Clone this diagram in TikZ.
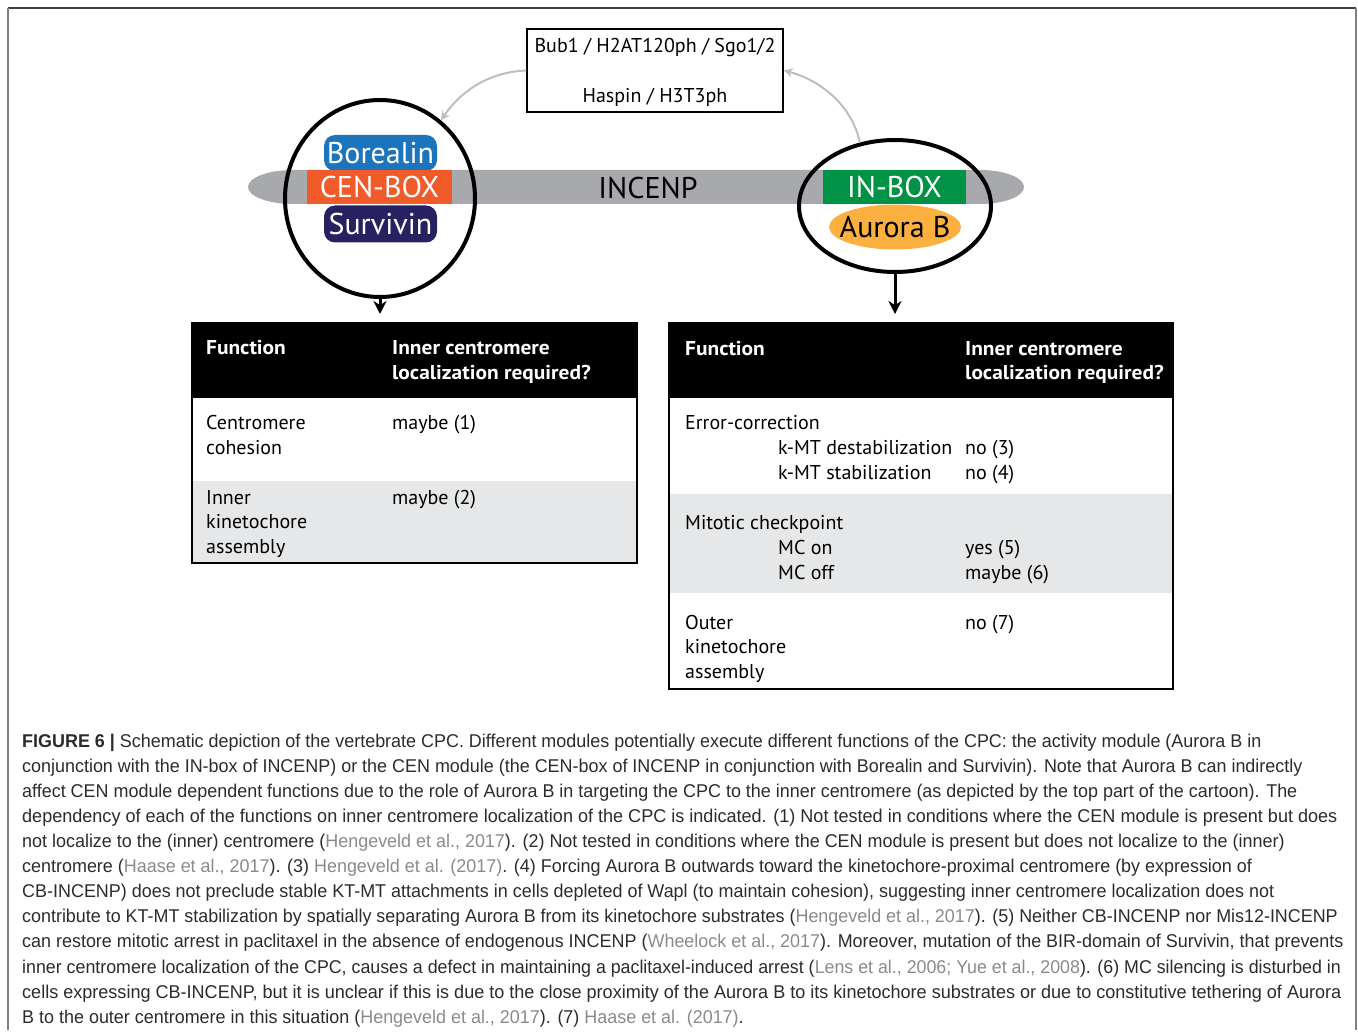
\documentclass[tikz,border=0pt]{standalone}
\usepackage{fontspec}
\usetikzlibrary{shapes.geometric,arrows.meta}
\newfontfamily\dfont{PT Sans}
\newfontfamily\hfont[FakeStretch=1.07]{PT Sans Bold}
\newfontfamily\capfont[FakeStretch=0.97]{Liberation Sans}
\definecolor{barc}{HTML}{A7A9AC}
\definecolor{borc}{HTML}{1C75BC}
\definecolor{cenc}{HTML}{F15A29}
\definecolor{surc}{HTML}{262262}
\definecolor{inbc}{HTML}{009245}
\definecolor{aurc}{HTML}{FBB040}
\definecolor{rowc}{HTML}{E6E7E8}
\definecolor{arrc}{HTML}{BCBEC0}
\definecolor{capc}{HTML}{2B2B2B}
\definecolor{citc}{HTML}{8A8A8A}
\newcommand{\ct}[1]{\textcolor{citc}{#1}}
\tikzset{
  tbl/.style={anchor=base west, inner sep=0, font=\dfont\fontsize{20}{24}\selectfont},
  tblh/.style={tbl, text=white, font=\hfont\fontsize{20}{24}\selectfont},
  captxt/.style={anchor=base west, inner sep=0, text=capc, font=\capfont\fontsize{18.5}{22}\selectfont},
  lbl/.style={inner sep=0, text=white, font=\dfont\fontsize{30}{34}\selectfont},
  grayarrow/.style={draw=arrc, line width=2, -{Stealth[length=9,width=9]}},
  blackarrow/.style={draw=black, line width=3, -{Stealth[length=13,width=13]}},
  ring/.style={ellipse, draw=black, line width=4, inner sep=0},
}
\begin{document}
\begin{tikzpicture}[x=1pt,y=-1pt]
\useasboundingbox (0,0) rectangle (1358,1035);
% frame
\draw[draw=black!75, line width=2] (8,8) -- (1356,8);
\draw[draw=black!50, line width=2] (8,8) -- (8,1030);
\draw[draw=black!50, line width=2] (1356,8) -- (1356,1030);

% INCENP bar
\fill[barc] (293,170) -- (980,170) arc[start angle=-90,end angle=90,x radius=44,y radius=17]
  -- (293,204) arc[start angle=90,end angle=270,x radius=45,y radius=17] -- cycle;
\node[inner sep=0, font=\dfont\fontsize{30}{34}\selectfont] (incenp) at (648,188) {INCENP};

% CEN module
\node[fill=borc, rounded corners=11, minimum width=113, minimum height=36, inner sep=0] (bor) at (380.5,153) {};
\node[lbl] (borl) at (bor) {Borealin};
\node[fill=surc, rounded corners=11, minimum width=113, minimum height=37, inner sep=0] (sur) at (380.5,224) {};
\node[lbl] (surl) at (sur) {Survivin};
\node[fill=cenc, minimum width=145, minimum height=34, inner sep=0] (cenbox) at (379.5,187) {};
\node[lbl] (cenl) at (cenbox) {CEN-BOX};
\node[ring, minimum width=190, minimum height=197] (cen) at (380,198.5) {};

% activity module
\node[fill=aurc, ellipse, minimum width=132, minimum height=45, inner sep=0] (aur) at (895,227) {};
\node[lbl, text=black] (aurl) at (aur) {Aurora B};
\node[fill=inbc, minimum width=143, minimum height=34, inner sep=0] (inbox) at (894.5,187) {};
\node[lbl] (inl) at (inbox) {IN-BOX};
\node[ring, minimum width=192, minimum height=132] (act) at (895,206) {};

% top box
\node[draw=black, line width=1.5, minimum width=256, minimum height=83, inner sep=0] (top) at (655,70.5) {};
\node[inner sep=0, font=\dfont\fontsize{20}{24}\selectfont] (topa) at (655,48) {Bub1 / H2AT120ph / Sgo1/2};
\node[inner sep=0, font=\dfont\fontsize{20}{24}\selectfont] (topb) at (655,97) {Haspin / H3T3ph};

% grey arrows
\draw[grayarrow] (top.west) .. controls (485,72) and (458,95) .. (cen.52);
\draw[grayarrow] (act.119) .. controls (852,105) and (820,80) .. (top.east);

% black arrows
\coordinate (lend) at (380,314);
\coordinate (rend) at (895,314);
\draw[blackarrow] (cen.south) -- (lend);
\draw[blackarrow] (act.south) -- (rend);

% left table
\fill[black] (192,323) rectangle (637,398);
\fill[rowc] (192,481) rectangle (637,563);
\draw[line width=2.5] (192,323) rectangle (637,563);
\node[tblh] (lh1) at (206,354) {Function};
\node[tblh] (lh2) at (392,354) {Inner centromere};
\node[tblh] (lh3) at (392,379) {localization required?};
\node[tbl] (l1a) at (206,429) {Centromere};
\node[tbl] (l1b) at (206,454) {cohesion};
\node[tbl] (l1c) at (392,429) {maybe (1)};
\node[tbl] (l2a) at (206,504) {Inner};
\node[tbl] (l2b) at (206,528) {kinetochore};
\node[tbl] (l2c) at (206,553) {assembly};
\node[tbl] (l2d) at (392,504) {maybe (2)};

% right table
\fill[black] (669,323) rectangle (1173,398);
\fill[rowc] (669,494) rectangle (1173,593);
\draw[line width=2.5] (669,323) rectangle (1173,689);
\node[tblh] (rh1) at (685,355) {Function};
\node[tblh] (rh2) at (965,355) {Inner centromere};
\node[tblh] (rh3) at (965,379) {localization required?};
\node[tbl] (r1a) at (685,429) {Error-correction};
\node[tbl] (r1b) at (778,454) {k-MT destabilization};
\node[tbl] (r1c) at (965,454) {no (3)};
\node[tbl] (r1d) at (778,479) {k-MT stabilization};
\node[tbl] (r1e) at (965,479) {no (4)};
\node[tbl] (r2a) at (685,529) {Mitotic checkpoint};
\node[tbl] (r2b) at (778,554) {MC on};
\node[tbl] (r2c) at (965,554) {yes (5)};
\node[tbl] (r2d) at (778,579) {MC off};
\node[tbl] (r2e) at (965,579) {maybe (6)};
\node[tbl] (r3a) at (685,629) {Outer};
\node[tbl] (r3b) at (685,653) {kinetochore};
\node[tbl] (r3c) at (685,678) {assembly};
\node[tbl] (r3d) at (965,629) {no (7)};

% caption
\node[captxt] (c1) at (22,747) {\textbf{FIGURE 6 |} Schematic depiction of the vertebrate CPC. Different modules potentially execute different functions of the CPC: the activity module (Aurora B in};
\node[captxt] (c2) at (22,772) {conjunction with the IN-box of INCENP) or the CEN module (the CEN-box of INCENP in conjunction with Borealin and Survivin). Note that Aurora B can indirectly};
\node[captxt] (c3) at (22,797) {affect CEN module dependent functions due to the role of Aurora B in targeting the CPC to the inner centromere (as depicted by the top part of the cartoon). The};
\node[captxt] (c4) at (22,822) {\scalebox{1.006}[1]{dependency of each of the functions on inner centromere localization of the CPC is indicated. (1) Not tested in conditions where the CEN module is present but does}};
\node[captxt] (c5) at (22,847) {not localize to the (inner) centromere (\ct{Hengeveld et al., 2017}). (2) Not tested in conditions where the CEN module is present but does not localize to the (inner)};
\node[captxt] (c6) at (22,872) {centromere (\ct{Haase et al., 2017}). (3) \ct{Hengeveld et al. (2017)}. (4) Forcing Aurora B outwards toward the kinetochore-proximal centromere (by expression of};
\node[captxt] (c7) at (22,897) {CB-INCENP) does not preclude stable KT-MT attachments in cells depleted of Wapl (to maintain cohesion), suggesting inner centromere localization does not};
\node[captxt] (c8) at (22,922) {\scalebox{0.998}[1]{contribute to KT-MT stabilization by spatially separating Aurora B from its kinetochore substrates (\ct{Hengeveld et al., 2017}). (5) Neither CB-INCENP nor Mis12-INCENP}};
\node[captxt] (c9) at (22,947) {can restore mitotic arrest in paclitaxel in the absence of endogenous INCENP (\ct{Wheelock et al., 2017}). Moreover, mutation of the BIR-domain of Survivin, that prevents};
\node[captxt] (c10) at (22,973) {\scalebox{0.992}[1]{inner centromere localization of the CPC, causes a defect in maintaining a paclitaxel-induced arrest (\ct{Lens et al., 2006; Yue et al., 2008}). (6) MC silencing is disturbed in}};
\node[captxt] (c11) at (22,998) {\scalebox{1.006}[1]{cells expressing CB-INCENP, but it is unclear if this is due to the close proximity of the Aurora B to its kinetochore substrates or due to constitutive tethering of Aurora}};
\node[captxt] (c12) at (22,1023) {B to the outer centromere in this situation (\ct{Hengeveld et al., 2017}). (7) \ct{Haase et al. (2017)}.};
\end{tikzpicture}
\end{document}
